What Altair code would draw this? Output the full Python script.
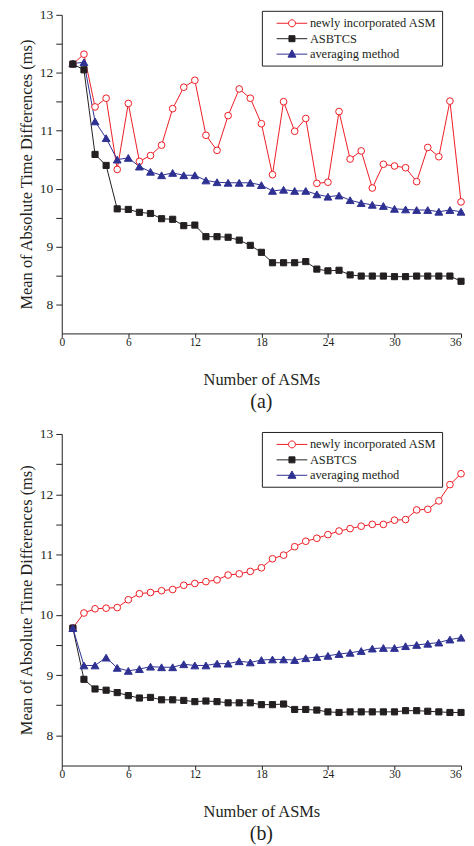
import altair as alt
import pandas as pd

x_vals = list(range(1, 37))
names = ["newly incorporated ASM", "ASBTCS", "averaging method"]

a_new = [12.15, 12.32, 11.41, 11.56, 10.33, 11.47, 10.47, 10.57, 10.75, 11.38, 11.75, 11.87,
         10.92, 10.66, 11.26, 11.72, 11.56, 11.12, 10.24, 11.50, 10.99, 11.21, 10.09, 10.11,
         11.33, 10.51, 10.65, 10.01, 10.42, 10.39, 10.36, 10.12, 10.71, 10.55, 11.51, 9.77]
a_asbtcs = [12.15, 12.05, 10.59, 10.40, 9.65, 9.64, 9.59, 9.57, 9.48, 9.47, 9.36, 9.37,
            9.17, 9.17, 9.16, 9.11, 9.02, 8.90, 8.72, 8.72, 8.72, 8.74, 8.61, 8.58,
            8.59, 8.51, 8.49, 8.49, 8.49, 8.48, 8.48, 8.49, 8.49, 8.49, 8.49, 8.40]
a_avg = [12.16, 12.18, 11.16, 10.87, 10.50, 10.53, 10.38, 10.29, 10.23, 10.27, 10.23, 10.23,
         10.14, 10.11, 10.10, 10.10, 10.10, 10.06, 9.96, 9.98, 9.96, 9.96, 9.90, 9.86,
         9.88, 9.80, 9.75, 9.72, 9.70, 9.65, 9.64, 9.63, 9.63, 9.60, 9.63, 9.60]

b_new = [9.78, 10.03, 10.10, 10.11, 10.12, 10.25, 10.35, 10.37, 10.40, 10.42, 10.49, 10.52,
         10.55, 10.58, 10.66, 10.68, 10.72, 10.78, 10.93, 10.99, 11.13, 11.22, 11.27, 11.33,
         11.39, 11.43, 11.47, 11.50, 11.50, 11.57, 11.58, 11.74, 11.75, 11.89, 12.16, 12.34]
b_asbtcs = [9.78, 8.93, 8.77, 8.75, 8.71, 8.66, 8.62, 8.63, 8.59, 8.59, 8.58, 8.56,
            8.57, 8.56, 8.54, 8.54, 8.54, 8.51, 8.51, 8.52, 8.43, 8.43, 8.42, 8.39,
            8.38, 8.39, 8.39, 8.39, 8.39, 8.39, 8.41, 8.41, 8.40, 8.39, 8.38, 8.38]
b_avg = [9.78, 9.16, 9.16, 9.29, 9.12, 9.07, 9.10, 9.14, 9.13, 9.13, 9.18, 9.16,
         9.16, 9.19, 9.19, 9.23, 9.21, 9.25, 9.26, 9.26, 9.25, 9.28, 9.30, 9.32,
         9.35, 9.37, 9.40, 9.44, 9.45, 9.45, 9.48, 9.50, 9.52, 9.54, 9.59, 9.62]

x_ticks = [0, 6, 12, 18, 24, 30, 36]
y_ticks = [8, 8.5, 9, 9.5, 10, 10.5, 11, 11.5, 12, 12.5, 13]

RED = "#ed1c24"
BLACK = "#231f20"
BLUE = "#2e3192"
FONT = "Liberation Serif"

line_colors = [RED, BLACK, BLUE]
fill_colors = ["white", BLACK, BLUE]
plot_shapes = ["circle", "square", "triangle-up"]
plot_sizes = [45, 38, 62]
legend_paths = [
    "M-3.5,0M-2.2,0H-0.5M0.5,0H2.2M-0.5,0C-0.5,-0.276,-0.276,-0.5,0,-0.5C0.276,-0.5,0.5,-0.276,0.5,0"
    "C0.5,0.276,0.276,0.5,0,0.5C-0.276,0.5,-0.5,0.276,-0.5,0Z",
    "M-3.5,0M-2.2,0H2.2M-0.43,-0.43H0.43V0.43H-0.43Z",
    "M-3.5,0M-2.2,0H2.2M0,-0.62L0.57,0.43H-0.57Z",
]


def panel(new, asb, avg, height, caption, legend_y, order):
    df = pd.DataFrame({
        "x": x_vals * 3,
        "y": new + asb + avg,
        "series": [names[0]] * 36 + [names[1]] * 36 + [names[2]] * 36,
    })
    xenc = alt.X("x:Q", scale=alt.Scale(domain=[0, 36], nice=False, zero=False),
                 axis=alt.Axis(values=x_ticks, title="Number of ASMs", labelFontSize=11.5,
                               labelFlush=False,
                               labelAlign={"condition": {"test": "datum.value >= 36", "value": "right"},
                                           "value": "center"},
                               tickSize=4, labelPadding=-1, titlePadding=24))
    yenc = alt.Y("y:Q", scale=alt.Scale(domain=[7.5, 13], nice=False, zero=False),
                 axis=alt.Axis(values=y_ticks,
                               labelExpr="datum.value % 1 == 0 ? format(datum.value, 'd') : ''",
                               title="Mean of Absolute Time Differences (ms)",
                               labelFontSize=13.5, tickSize=6, labelPadding=3, titlePadding=5))
    base = alt.Chart(df)
    layers = []
    for i in order:
        layers.append(
            base.transform_filter(alt.datum.series == names[i]).mark_line(
                strokeWidth=1, color=line_colors[i]
            ).encode(x=xenc, y=yenc)
        )
    for i in order:
        layers.append(
            base.transform_filter(alt.datum.series == names[i]).mark_point(
                shape=plot_shapes[i], size=plot_sizes[i], filled=True,
                fill=fill_colors[i], stroke=line_colors[i], strokeWidth=1, opacity=1,
            ).encode(x=xenc, y=yenc)
        )
    leg = alt.Legend(title=None, orient="none", legendX=201, legendY=legend_y,
                     direction="vertical", labelFont=FONT, labelFontSize=12.5,
                     labelColor=BLACK, labelLimit=300, symbolSize=196, symbolStrokeWidth=1,
                     symbolOffset=17.7, labelOffset=10.5, padding=5, rowPadding=1.5,
                     strokeColor=BLACK, fillColor="white")
    legend_layer = base.mark_point(filled=True, opacity=1, strokeWidth=0, size=0).encode(
        x=xenc, y=yenc,
        shape=alt.Shape("series:N", scale=alt.Scale(domain=names, range=legend_paths), legend=leg),
        fill=alt.Fill("series:N", scale=alt.Scale(domain=names, range=fill_colors), legend=leg),
        stroke=alt.Stroke("series:N", scale=alt.Scale(domain=names, range=line_colors), legend=leg),
    )
    layers.append(legend_layer)
    return alt.layer(*layers).properties(
        width=401, height=height,
        title=alt.TitleParams(caption, orient="bottom", anchor="middle", frame="group",
                              fontSize=20, font=FONT, fontWeight="normal", color=BLACK, offset=4),
    )


pa = panel(a_new, a_asbtcs, a_avg, 320, "(a)", -4, [0, 2, 1])
pb = panel(b_new, b_asbtcs, b_avg, 333, "(b)", -2, [0, 1, 2])

chart = alt.vconcat(pa, pb, spacing=13).resolve_scale(
    fill="independent", stroke="independent", shape="independent"
).resolve_legend(
    fill="independent", stroke="independent", shape="independent"
).properties(
    padding={"left": 10, "top": -3, "right": -2, "bottom": 0},
    background="white",
).configure_view(
    stroke="transparent"
).configure_axis(
    grid=False, labelFont=FONT, titleFont=FONT, titleFontSize=16.5, titleFontWeight="normal",
    labelColor=BLACK, titleColor=BLACK, domainColor=BLACK, tickColor=BLACK,
    domainWidth=1, tickWidth=1,
)

chart.save("out.html", embed_options={"renderer": "svg", "actions": False})
